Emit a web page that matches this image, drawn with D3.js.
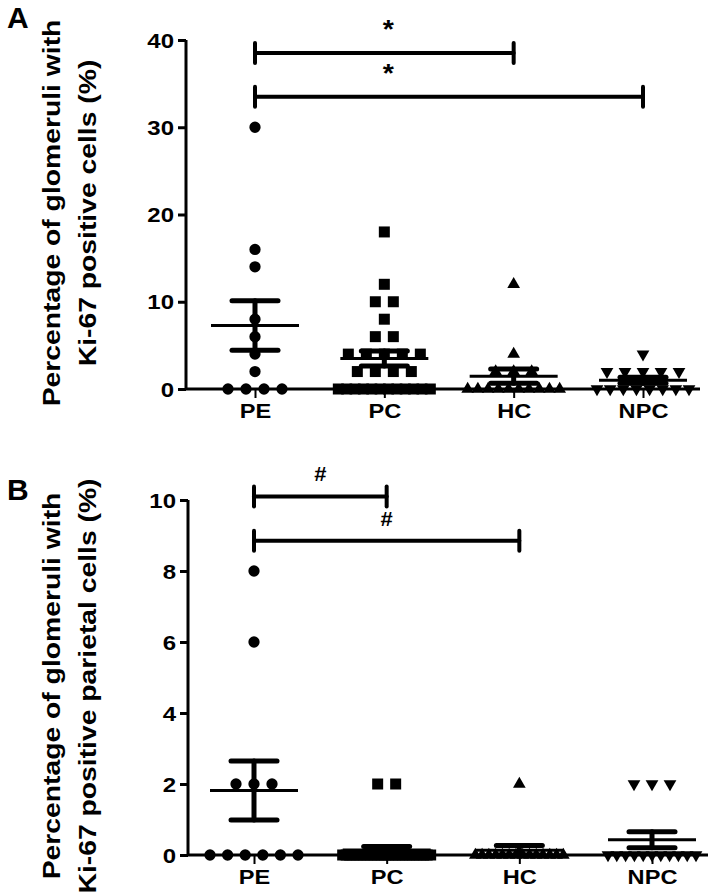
<!DOCTYPE html>
<html>
<head>
<meta charset="utf-8">
<script src="https://cdn.jsdelivr.net/npm/d3@7"></script>
<style>
  html, body { margin: 0; padding: 0; background: #fff; }
  svg text { font-family: "Liberation Sans", Arial, sans-serif; font-weight: bold; fill: #000; }
</style>
</head>
<body>
<svg id="chart" width="723" height="893"></svg>
<script>
// ---------------- DATA ----------------
const categories = ["PE", "PC", "HC", "NPC"];

// Panel A: % glomeruli with Ki-67 positive cells
const panelA_PE  = [30, 16, 14, 8, 6, 4, 2, 0, 0, 0, 0];
const panelA_PC  = [18, 12, 10, 10, 8, 6, 6, 4, 4, 4, 4, 4, 2, 2, 2, 2, 0, 0, 0, 0, 0, 0, 0, 0, 0, 0, 0, 0];
const panelA_HC  = [12, 4, 2, 2, 2, 0, 0, 0, 0, 0, 0, 0, 0, 0, 0];
const panelA_NPC = [4, 2, 2, 2, 2, 2, 0, 0, 0, 0, 0, 0, 0, 0];

// Panel B: % glomeruli with Ki-67 positive parietal cells
const panelB_PE  = [8, 6, 2, 2, 2, 0, 0, 0, 0, 0, 0];
const panelB_PC  = [2, 2, 0, 0, 0, 0, 0, 0, 0, 0, 0, 0, 0, 0, 0, 0, 0, 0, 0, 0, 0, 0, 0, 0, 0, 0, 0, 0];
const panelB_HC  = [2, 0, 0, 0, 0, 0, 0, 0, 0, 0, 0, 0, 0, 0, 0];
const panelB_NPC = [2, 2, 2, 0, 0, 0, 0, 0, 0, 0, 0, 0, 0, 0];

const ticksA = [0, 10, 20, 30, 40];
const ticksB = [0, 2, 4, 6, 8, 10];

const sigA = [
  { from: "PE", to: "HC",  value: 38.5, label: "*" },
  { from: "PE", to: "NPC", value: 33.5, label: "*" }
];
const sigB = [
  { from: "PE", to: "PC", value: 10.1, label: "#" },
  { from: "PE", to: "HC", value: 8.85, label: "#" }
];

const titleA = ["Percentage of glomeruli with", "Ki-67 positive cells (%)"];
const titleB = ["Percentage of glomeruli with", "Ki-67 positive parietal cells (%)"];

// ---------------- DRAWING ----------------
const svg = d3.select("#chart");
const symbolsFor = {
  PE:  { type: d3.symbolCircle,   size: 100, rot: 0 },
  PC:  { type: d3.symbolSquare,   size: 121, rot: 0 },
  HC:  { type: d3.symbolTriangle, size: 70,  rot: 0 },
  NPC: { type: d3.symbolTriangle, size: 70,  rot: 180 }
};

function stretch(sel, factor) {
  sel.each(function () {
    const len = this.getComputedTextLength();
    d3.select(this).attr("textLength", len * factor).attr("lengthAdjust", "spacingAndGlyphs");
  });
}

function drawPanel(cfg) {
  const g = svg.append("g");
  const y = d3.scaleLinear().domain(cfg.domain).range([cfg.yBottom, cfg.yTop]);
  const x = d3.scalePoint().domain(categories).range(cfg.xRange);

  // points
  cfg.series.forEach((vals, i) => {
    const cat = categories[i];
    const sym = symbolsFor[cat];
    const groups = d3.groups(vals, v => v);
    const pts = [];
    groups.forEach(([v, arr]) => {
      const k = arr.length;
      const spacing = k > 1 ? Math.min(18, cfg.maxRowWidth / (k - 1)) : 0;
      arr.forEach((_, j) => pts.push({ v, dx: (j - (k - 1) / 2) * spacing }));
    });
    g.append("g").selectAll("path").data(pts).join("path")
      .attr("d", d3.symbol().type(sym.type).size(sym.size))
      .attr("transform", d => `translate(${x(cat) + d.dx},${y(d.v)}) rotate(${sym.rot})`)
      .attr("fill", "#000");

    // mean and SEM
    const m = d3.mean(vals);
    const sem = d3.deviation(vals) / Math.sqrt(vals.length);
    const cx = x(cat);
    const eg = g.append("g").attr("stroke", "#000").attr("stroke-linecap", "round");
    eg.append("line").attr("x1", cx).attr("x2", cx).attr("y1", y(m - sem)).attr("y2", y(m + sem)).attr("stroke-width", 5);
    [m - sem, m + sem].forEach(v => {
      eg.append("line").attr("x1", cx - 23).attr("x2", cx + 23).attr("y1", y(v)).attr("y2", y(v)).attr("stroke-width", 5);
    });
    eg.append("line").attr("x1", cx - 44).attr("x2", cx + 44).attr("y1", y(m)).attr("y2", y(m))
      .attr("stroke-width", 3).attr("stroke-linecap", "butt");
  });

  // y axis
  const yAxis = g.append("g").attr("transform", `translate(${cfg.axisX},0)`)
    .call(d3.axisLeft(y).tickValues(cfg.ticks).tickSize(8).tickSizeOuter(0).tickPadding(4));
  yAxis.selectAll("path, line").attr("stroke", "#000").attr("stroke-width", 3);
  yAxis.select(".domain").attr("d", `M0,${cfg.yBottom}V${cfg.yTop}`);
  yAxis.selectAll("text").attr("font-size", 20).attr("fill", "#000").attr("dy", "0.36em")
    .style("font-family", "Liberation Sans, Arial, sans-serif").style("font-weight", "bold");
  stretch(yAxis.selectAll("text"), 1.2);

  // x axis
  g.append("line").attr("x1", cfg.axisX).attr("x2", cfg.axisEnd)
    .attr("y1", cfg.yBottom).attr("y2", cfg.yBottom).attr("stroke", "#000").attr("stroke-width", 3);
  const xAxis = g.append("g").attr("transform", `translate(0,${cfg.yBottom})`)
    .call(d3.axisBottom(x).tickSize(9).tickPadding(6));
  xAxis.select(".domain").remove();
  xAxis.selectAll("line").attr("stroke", "#000").attr("stroke-width", 2);
  xAxis.selectAll("text").attr("font-size", 20).attr("fill", "#000")
    .style("font-family", "Liberation Sans, Arial, sans-serif").style("font-weight", "bold");
  stretch(xAxis.selectAll("text"), 1.18);

  // significance bars
  cfg.sig.forEach(s => {
    const x1 = x(s.from), x2 = x(s.to), yy = y(s.value);
    const sg = g.append("g").attr("stroke", "#000").attr("stroke-linecap", "round");
    sg.append("line").attr("x1", x1).attr("x2", x2).attr("y1", yy).attr("y2", yy).attr("stroke-width", 4);
    [x1, x2].forEach(xx => sg.append("line").attr("x1", xx).attr("x2", xx)
      .attr("y1", yy - 10).attr("y2", yy + 10).attr("stroke-width", 4));
    const lx = cfg.labelX ? cfg.labelX(s, x) : (x1 + x2) / 2;
    const t = g.append("text").attr("x", lx).attr("y", yy - cfg.labelOffset)
      .attr("text-anchor", "middle").attr("font-size", cfg.labelSize).text(s.label);
    stretch(t, 1.1);
  });

  // y title
  const tg = g.append("g");
  cfg.title.forEach((line, i) => {
    const t = tg.append("text")
      .attr("transform", `translate(${cfg.titleX[i]},${cfg.titleCY}) rotate(-90)`)
      .attr("text-anchor", "middle").attr("dy", "0.35em").attr("font-size", 23).text(line);
    stretch(t, 1.23);
  });

  // panel letter
  svg.append("text").attr("x", 7).attr("y", cfg.letterY).attr("font-size", 30).text(cfg.letter);
}

drawPanel({
  letter: "A", letterY: 28,
  domain: [0, 40], yBottom: 389, yTop: 40,
  xRange: [255, 643], axisX: 186, axisEnd: 700,
  ticks: ticksA,
  series: [panelA_PE, panelA_PC, panelA_HC, panelA_NPC],
  maxRowWidth: 92,
  sig: sigA, labelOffset: 15, labelSize: 26,
  labelX: (s, x) => (x("PE") + x("HC")) / 2 + 4,
  title: titleA, titleX: [52, 88], titleCY: 213
});

drawPanel({
  letter: "B", letterY: 500,
  domain: [0, 10], yBottom: 855, yTop: 500,
  xRange: [254, 652], axisX: 188, axisEnd: 708,
  ticks: ticksB,
  series: [panelB_PE, panelB_PC, panelB_HC, panelB_NPC],
  maxRowWidth: 88,
  sig: sigB, labelOffset: 15, labelSize: 20,
  labelX: null,
  title: titleB, titleX: [52, 88], titleCY: 686
});
</script>
</body>
</html>
